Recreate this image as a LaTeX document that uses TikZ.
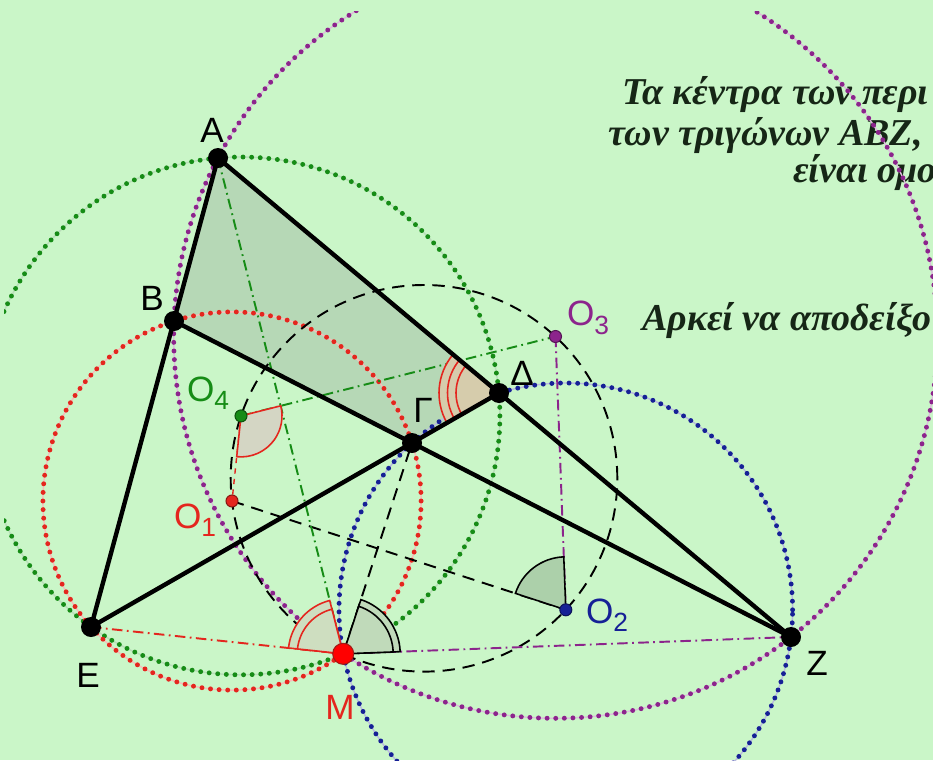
\documentclass[tikz,border=0pt]{standalone}
\usepackage{fontspec}
\setmainfont{Liberation Serif}
\newfontfamily\lblfont{Liberation Sans}
\usepackage{xcolor}
\usepackage{tikz}
\definecolor{mqbg}{RGB}{202,246,200}
\definecolor{mqshade}{RGB}{182,216,182}
\definecolor{mqred}{RGB}{228,38,30}
\definecolor{mqgreen}{RGB}{22,140,22}
\definecolor{mqblue}{RGB}{22,32,150}
\definecolor{mqpurple}{RGB}{140,36,140}
\definecolor{mqink}{RGB}{22,38,22}
\tikzset{
  mqside/.style={line width=2.5pt, draw=black, line cap=round},
  mqcirc/.style={line width=2.8pt, draw=#1, line cap=round, dash pattern=on 0pt off 4.9pt,
    preaction={draw=#1!30, line width=0.8pt, solid}},
  mqchain/.style={line width=1.1pt, draw=#1, dash pattern=on 6pt off 2.5pt on 1pt off 2.5pt},
  mqdash/.style={line width=1.1pt, draw=black, dash pattern=on 7pt off 4.5pt},
  mqsector/.style={line width=0.9pt, draw=#1},
  mqvertex/.style={fill=black},
  mqcentre/.style={fill=#1, draw=#1!60!black, line width=0.6pt},
  mqlabel/.style={font=\lblfont\fontsize{20}{20}\selectfont, inner sep=0pt},
  mqtext/.style={font=\bfseries\itshape\fontsize{21.6}{21.6}\selectfont, text=mqink, anchor=base west, inner sep=0pt},
}
\newcommand{\mqsub}[1]{\raisebox{-0.45ex}{\fontsize{15}{15}\selectfont #1}}

\begin{document}
\begin{tikzpicture}
\useasboundingbox (0,0) rectangle (18.660,15.200);
\fill[mqbg] (0,0) rectangle (18.660,15.200);
\clip (0.080,0) rectangle (18.660,14.960);
% points of the complete quadrilateral
\coordinate (A) at (4.360,12.040);
\coordinate (B) at (3.480,8.780);
\coordinate (G) at (8.240,6.340);
\coordinate (D) at (9.980,7.340);
\coordinate (E) at (1.820,2.660);
\coordinate (Z) at (15.820,2.460);
\coordinate (M) at (6.864,2.124);
% circumcentres and the circle through them
\coordinate (O1) at (4.640,5.180);
\coordinate (O2) at (11.316,3.004);
\coordinate (O3) at (11.110,8.470);
\coordinate (O4) at (4.820,6.882);
\coordinate (K) at (8.480,5.634);
% text
\node[mqtext] (t1) at (12.440,13.100) {Τα κέντρα των περι};
\node[mqtext] (t2) at (12.160,12.300) {των τριγώνων ΑΒΖ,};
\node[mqtext] (t3) at (15.860,11.560) {είναι ομο};
\node[mqtext] (t4) at (12.840,8.600) {Αρκεί να αποδείξο};
\fill[mqshade] (A) -- (B) -- (G) -- (D) -- cycle;
\draw[mqcirc=mqpurple] (O3) circle (7.636);
\draw[mqcirc=mqgreen] (O4) circle (5.178);
\draw[mqcirc=mqred] (O1) circle (3.782);
\draw[mqcirc=mqblue] (O2) circle (4.536);
\draw[line width=0.8pt, draw=mqred, dashed] (O4) -- (O1);
\draw[mqdash] (K) circle (3.866);
\draw[mqdash] (O1) -- (O2);
\draw[mqdash] (M) -- (G);
\draw[mqchain=mqgreen] (A) -- (M);
\draw[mqchain=mqgreen] (O4) -- (O3);
\draw[mqchain=mqred] (E) -- (M);
\draw[mqchain=mqpurple] (M) -- (Z);
\draw[mqchain=mqpurple] (O3) -- (O2);
% equal angles
\fill[fill={rgb,255:red,214;green,204;blue,172}] (D) -- ++(140.1:1.2) arc[start angle=140.1, end angle=209.9, radius=1.2] -- cycle;
\foreach \r in {0.86,1.03,1.2}
  \draw[mqsector=mqred] ([shift={(140.1:\r)}]D) arc[start angle=140.1, end angle=209.9, radius=\r];
\foreach \r in {1.10,0.92}
  \filldraw[mqsector=mqred, fill={rgb,255:red,206;green,222;blue,192}] (M) -- ++(104.2:\r) arc[start angle=104.2, end angle=173.9, radius=\r] -- cycle;
\foreach \r in {1.14,1.0}
  \filldraw[mqsector=black, fill={rgb,255:red,192;green,218;blue,186}] (M) -- ++(2.15:\r) arc[start angle=2.15, end angle=71.9, radius=\r] -- cycle;
\filldraw[mqsector=black, fill={rgb,255:red,172;green,208;blue,170}] (O2) -- ++(92.2:1.06) arc[start angle=92.2, end angle=161.95, radius=1.06] -- cycle;
\filldraw[mqsector=mqred, fill={rgb,255:red,212;green,214;blue,196}] (O4) -- ++(-96:0.82) arc[start angle=-96, end angle=14.2, radius=0.82] -- cycle;
% sides
\draw[mqside] (A) -- (E);
\draw[mqside] (A) -- (Z);
\draw[mqside] (B) -- (Z);
\draw[mqside] (E) -- (D);
\foreach \p in {A,B,G,D,E,Z}
  \fill[mqvertex] (\p) circle (0.2);
\filldraw[fill=red, draw=mqred!70!black, line width=0.6pt] (M) circle (0.21);
\filldraw[mqcentre=mqred] (O1) circle (0.12);
\filldraw[mqcentre=mqblue] (O2) circle (0.12);
\filldraw[mqcentre=mqpurple] (O3) circle (0.12);
\filldraw[mqcentre=mqgreen] (O4) circle (0.12);
% labels
\node[mqlabel] (lA) at (4.240,12.600) {Α};
\node[mqlabel] (lB) at (3.040,9.240) {Β};
\node[mqlabel] (lG) at (8.460,7.000) {Γ};
\node[mqlabel] (lD) at (10.440,7.740) {Δ};
\node[mqlabel] (lE) at (1.760,1.700) {Ε};
\node[mqlabel] (lZ) at (16.340,1.940) {Ζ};
\node[mqlabel, text=mqred] (lM) at (6.800,1.060) {Μ};
\node[mqlabel, text=mqred] (lO1) at (3.900,4.800) {O\mqsub{1}};
\node[mqlabel, text=mqblue] (lO2) at (12.140,2.900) {O\mqsub{2}};
\node[mqlabel, text=mqpurple] (lO3) at (11.760,8.840) {O\mqsub{3}};
\node[mqlabel, text=mqgreen] (lO4) at (4.160,7.340) {O\mqsub{4}};
\end{tikzpicture}
\end{document}
